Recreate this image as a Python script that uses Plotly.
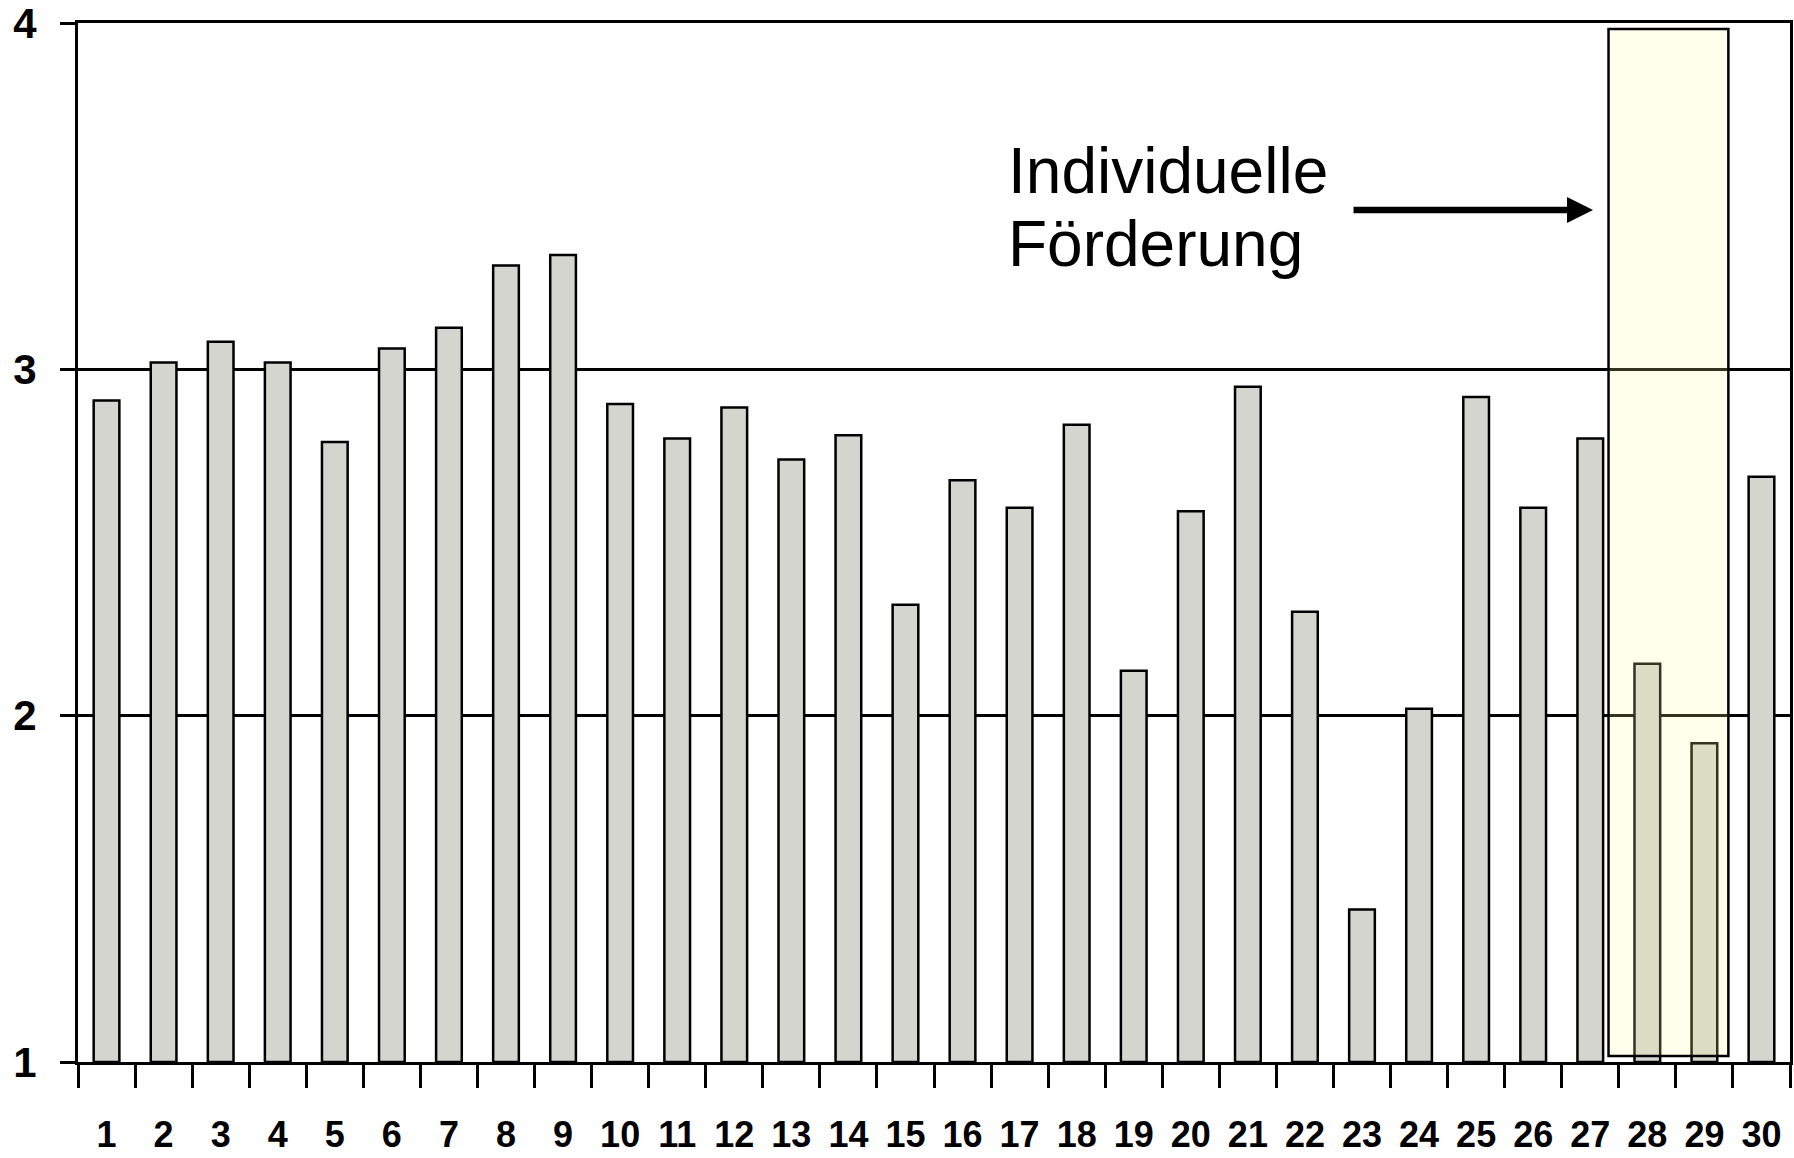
import plotly.graph_objects as go

categories = ["1", "2", "3", "4", "5", "6", "7", "8", "9", "10",
              "11", "12", "13", "14", "15", "16", "17", "18", "19", "20",
              "21", "22", "23", "24", "25", "26", "27", "28", "29", "30"]
values = [2.91, 3.02, 3.08, 3.02, 2.79, 3.06, 3.12, 3.30, 3.33, 2.90,
          2.80, 2.89, 2.74, 2.81, 2.32, 2.68, 2.60, 2.84, 2.13, 2.59,
          2.95, 2.30, 1.44, 2.02, 2.92, 2.60, 2.80, 2.15, 1.92, 2.69]
y_ticks = [1, 2, 3, 4]
annotation_lines = ["Individuelle", "Förderung"]
highlight_first, highlight_last = "28", "29"

W, H = 1794, 1158
L, R, T, B = 78, 4, 23, 96
pw, ph = W - L - R, H - T - B

def px_to_paper_x(px):
    return (px - L) / pw

def px_to_paper_y(py):
    return (H - B - py) / ph

fig = go.Figure()
fig.add_trace(go.Bar(
    x=categories, y=[v - 1 for v in values], base=1,
    marker=dict(color="#D4D5CF", line=dict(color="black", width=2.5)),
    hoverinfo="skip",
))

i0 = categories.index(highlight_first)
i1 = categories.index(highlight_last)
fig.add_shape(type="rect", xref="x", yref="y",
              x0=i0 - 0.68, x1=i1 + 0.42, y0=1.017, y1=3.983,
              fillcolor="rgba(255,255,160,0.2)",
              line=dict(color="black", width=2.5), layer="above")

fig.add_annotation(xref="paper", yref="paper",
                   x=px_to_paper_x(1006), y=px_to_paper_y(171),
                   xanchor="left", yanchor="middle", showarrow=False,
                   text=annotation_lines[0],
                   font=dict(family="Liberation Sans, Arial", size=64, color="black"))
fig.add_annotation(xref="paper", yref="paper",
                   x=px_to_paper_x(1006), y=px_to_paper_y(244),
                   xanchor="left", yanchor="middle", showarrow=False,
                   text=annotation_lines[1],
                   font=dict(family="Liberation Sans, Arial", size=64, color="black"))
fig.add_annotation(xref="paper", yref="paper",
                   x=px_to_paper_x(1593), y=px_to_paper_y(210),
                   ax=-241, ay=0, axref="pixel", ayref="pixel",
                   text="", showarrow=True, arrowhead=2, arrowsize=0.8,
                   arrowwidth=6.5, arrowcolor="black", standoff=0)

fig.update_layout(
    width=W, height=H,
    margin=dict(l=L, r=R, t=T, b=B, pad=0, autoexpand=False),
    plot_bgcolor="white", paper_bgcolor="white",
    bargap=0.55, showlegend=False,
    font=dict(family="Liberation Sans, Arial", color="black"),
)
fig.update_xaxes(
    type="category", showline=True, linecolor="black", linewidth=3, mirror=True,
    ticks="outside", tickson="boundaries", ticklen=23, tickwidth=2.5, tickcolor="black",
    showgrid=False, ticklabelstandoff=39, automargin=False,
    tickfont=dict(family="Liberation Sans, Arial", size=36, color="black", weight="bold"),
)
fig.update_yaxes(
    range=[1, 4], tickvals=y_ticks, ticktext=[str(t) for t in y_ticks],
    showline=True, linecolor="black", linewidth=3, mirror=True,
    ticks="outside", ticklen=15, tickwidth=2.5, tickcolor="black",
    showgrid=True, gridcolor="black", gridwidth=2.5, zeroline=False,
    ticklabelstandoff=15, ticklabeloverflow="allow", automargin=False,
    tickfont=dict(family="Liberation Sans, Arial", size=42, color="black", weight="bold"),
)

fig.write_html("out.html")
